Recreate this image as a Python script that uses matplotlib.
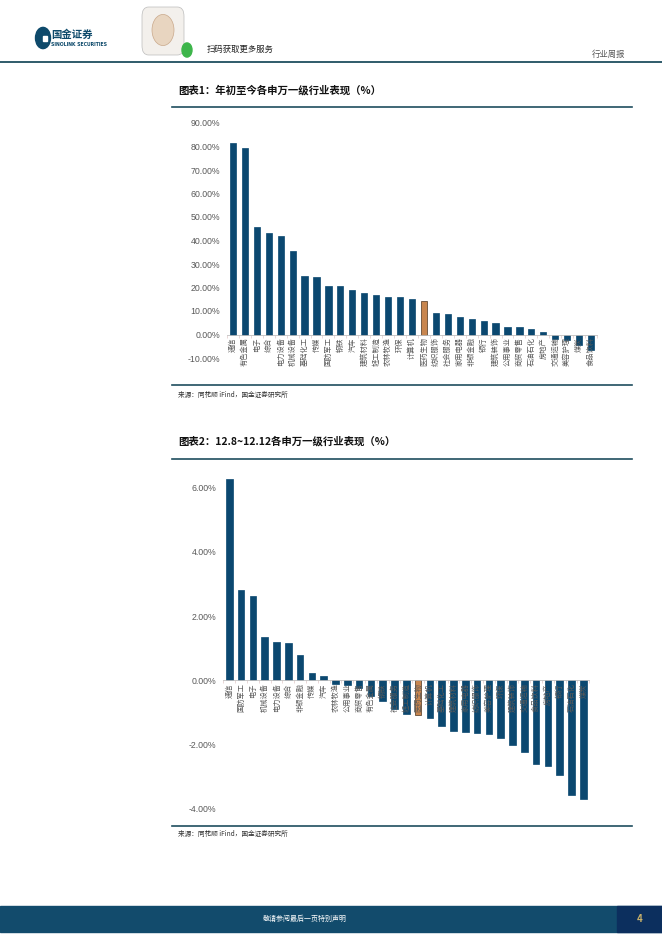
import matplotlib
matplotlib.use("Agg")
import matplotlib.pyplot as plt
from matplotlib.patches import Rectangle, Circle, FancyBboxPatch
from matplotlib.ticker import FuncFormatter, FixedLocator

plt.rcParams['font.family'] = ['Noto Sans CJK SC', 'DejaVu Sans']

# ---------------- data ----------------
ytd_industries = ["通信", "有色金属", "电子", "综合", "电力设备", "机械设备", "基础化工", "传媒",
                  "国防军工", "钢铁", "汽车", "建筑材料", "轻工制造", "农林牧渔", "环保", "计算机",
                  "医药生物", "纺织服饰", "社会服务", "家用电器", "非银金融", "银行", "建筑装饰",
                  "公用事业", "商贸零售", "石油石化", "房地产", "交通运输", "美容护理", "煤炭", "食品饮料"]
ytd_values = [81.6, 79.5, 45.9, 43.3, 42.1, 35.7, 25.1, 24.6,
              20.8, 20.8, 19.1, 17.8, 16.6, 16.1, 16.1, 14.9,
              14.4, 9.3, 8.6, 7.6, 6.8, 5.9, 4.7,
              3.4, 3.0, 2.5, 1.0, -1.8, -2.2, -4.5, -6.5]

week_industries = ["通信", "国防军工", "电子", "机械设备", "电力设备", "综合", "非银金融", "传媒",
                   "汽车", "农林牧渔", "公用事业", "商贸零售", "有色金属", "钢铁", "社会服务", "轻工制造",
                   "医药生物", "计算机", "基础化工", "建筑材料", "家用电器", "纺织服饰", "美容护理",
                   "环保", "建筑装饰", "交通运输", "食品饮料", "房地产", "银行", "石油石化", "煤炭"]
week_values = [6.27, 2.80, 2.61, 1.36, 1.18, 1.15, 0.80, 0.24,
               0.15, -0.12, -0.13, -0.25, -0.49, -0.65, -0.90, -1.06,
               -1.09, -1.18, -1.43, -1.58, -1.61, -1.65, -1.68,
               -1.80, -2.02, -2.24, -2.61, -2.65, -2.93, -3.55, -3.68]

highlight = "医药生物"

ytd_ticks = [-10, 0, 10, 20, 30, 40, 50, 60, 70, 80, 90]
week_ticks = [-4, -2, 0, 2, 4, 6]

# ---------------- style ----------------
W, H = 662, 936
BAR = "#0B4870"
ORANGE = "#C8864F"
LINE = "#1F4E5F"
GREY = "#595959"

fig = plt.figure(figsize=(W / 100, H / 100), dpi=100)
fig.patch.set_facecolor("white")


def fx(x):
    return x / W


def fy(y):
    return 1 - y / H


def add_ax(x0, y0, x1, y1):
    return fig.add_axes([fx(x0), fy(y1), fx(x1) - fx(x0), fy(y0) - fy(y1)])


def hline(x0, x1, y, color=LINE, lw=1.2):
    fig.add_artist(plt.Line2D([fx(x0), fx(x1)], [fy(y), fy(y)], color=color, lw=lw,
                              transform=fig.transFigure))


def bar_chart(ax, cats, vals, ticks, ylim, width, pct_fmt):
    xs = list(range(len(cats)))
    colors = [ORANGE if c == highlight else BAR for c in cats]
    edges = ["#4A3520" if c == highlight else BAR for c in cats]
    ax.bar(xs, vals, width=width, color=colors, edgecolor=edges, linewidth=0.5, zorder=1)
    ax.set_xlim(-0.5, len(cats) - 0.5)
    ax.set_ylim(*ylim)
    for s in ["top", "right", "left"]:
        ax.spines[s].set_visible(False)
    ax.spines["bottom"].set_position(("data", 0))
    ax.spines["bottom"].set_color("#BFBFBF")
    ax.spines["bottom"].set_linewidth(0.6)
    ax.set_xticks(xs)
    ax.set_xticklabels(cats, rotation=90, fontsize=5.2, color=GREY)
    ax.tick_params(axis="x", which="major", length=0, pad=2)
    ax.xaxis.set_minor_locator(FixedLocator([i + 0.5 for i in range(-1, len(cats))]))
    ax.tick_params(axis="x", which="minor", length=2, color="#E0C8C8", width=0.5)
    ax.set_yticks(ticks)
    ax.yaxis.set_major_formatter(FuncFormatter(pct_fmt))
    ax.tick_params(axis="y", length=0, pad=5, labelsize=6.3, labelcolor=GREY)
    for lab in ax.get_yticklabels():
        lab.set_fontfamily(["Liberation Sans", "DejaVu Sans"])
    ax.set_facecolor("none")


# ---------------- header ----------------
fig.add_artist(Circle((fx(43), fy(38)), 7.5 / W, color="#0E4A6B", transform=fig.transFigure))
fig.add_artist(Rectangle((fx(43), fy(41)), 4 / W, 5 / H, color="white", transform=fig.transFigure))
fig.text(fx(51), fy(35), "国金证券", fontsize=7.5, fontweight="bold", color="#0E4A6B",
         va="center", ha="left")
fig.text(fx(51), fy(44.5), "SINOLINK SECURITIES", fontsize=3.3, fontweight="bold",
         color="#0E4A6B", va="center", ha="left", family=["DejaVu Sans"])
fig.add_artist(FancyBboxPatch((fx(142), fy(55)), 42 / W, 48 / H,
                              boxstyle="round,pad=0,rounding_size=0.01",
                              facecolor="#F3F0EC", edgecolor="#BBBBBB", lw=0.5,
                              transform=fig.transFigure))
fig.add_artist(Circle((fx(163), fy(30)), 11 / W, facecolor="#E8D5C0", edgecolor="#C9A88A",
                      lw=0.5, transform=fig.transFigure))
fig.add_artist(Circle((fx(187), fy(50)), 5 / W, color="#3DB54A", transform=fig.transFigure))
fig.text(fx(207), fy(49), "扫码获取更多服务", fontsize=6, color="#222222", va="center", ha="left")
fig.text(fx(625), fy(54), "行业周报", fontsize=6, color="#555555", va="center", ha="right")
hline(0, W, 62, color=LINE, lw=1.3)

# ---------------- chart 1 ----------------
fig.text(fx(178), fy(90), "图表1：年初至今各申万一级行业表现（%）", fontsize=7.5,
         fontweight="bold", color="#111111", va="center", ha="left")
hline(172, 632, 107)
ax1 = add_ax(227, 123, 597, 358)
bar_chart(ax1, ytd_industries, ytd_values, ytd_ticks, (-10, 90), 0.52,
          lambda v, p: f"{v:.2f}%")
hline(172, 632, 385)
fig.text(fx(178), fy(395), "来源：同花顺 iFind，国金证券研究所", fontsize=4.8,
         color="#333333", va="center", ha="left")

# ---------------- chart 2 ----------------
fig.text(fx(178), fy(441), "图表2：12.8~12.12各申万一级行业表现（%）", fontsize=7.5,
         fontweight="bold", color="#111111", va="center", ha="left")
hline(172, 632, 459)
ax2 = add_ax(223.4, 461.6, 589.2, 809)
bar_chart(ax2, week_industries, week_values, week_ticks, (-4, 6.8), 0.56,
          lambda v, p: f"{v:.2f}%")
hline(172, 632, 826)
fig.text(fx(178), fy(834), "来源：同花顺 iFind，国金证券研究所", fontsize=4.8,
         color="#333333", va="center", ha="left")

# ---------------- footer ----------------
fig.add_artist(Rectangle((0, fy(932)), 1, 26 / H, color="#124B6C", transform=fig.transFigure))
fig.add_artist(Rectangle((fx(617), fy(932)), 45 / W, 26 / H, color="#0C2F5E",
                         transform=fig.transFigure))
fig.text(fx(305), fy(919), "敬请参阅最后一页特别声明", fontsize=5, color="white",
         va="center", ha="center")
fig.text(fx(640), fy(919), "4", fontsize=7, color="#C9B26B", va="center", ha="center",
         fontweight="bold")

fig.savefig("out.png", dpi=100)
